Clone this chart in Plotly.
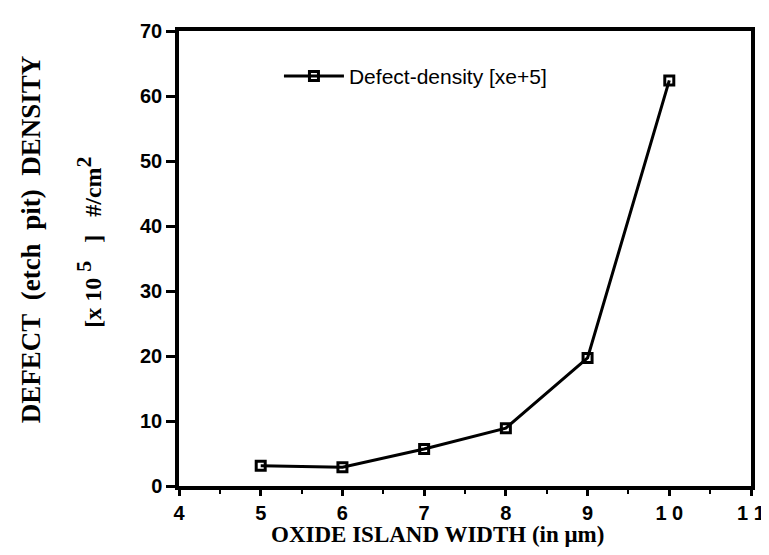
import plotly.graph_objects as go

width_um = [5, 6, 7, 8, 9, 10]
defect_density = [3.1, 2.9, 5.7, 8.9, 19.7, 62.4]
series_name = "Defect-density [xe+5]"
x_tick_vals = [4, 5, 6, 7, 8, 9, 10, 11]
x_tick_text = ["4", "5", "6", "7", "8", "9", "1 0", "1 1"]
y_tick_vals = [0, 10, 20, 30, 40, 50, 60, 70]

W, H = 769, 555
L, R, T, B = 171, 20, 16, 77
PW, PH = W - L - R, H - T - B

fig = go.Figure()
fig.add_trace(go.Scatter(
    x=width_um, y=defect_density, mode="lines+markers", name=series_name,
    line=dict(color="black", width=3),
    marker=dict(symbol="square-open", size=9, color="black", line=dict(color="black", width=3)),
))

tickfont = dict(family="Liberation Sans, Arial", size=20, color="black", weight="bold")
fig.update_layout(
    width=W, height=H,
    margin=dict(l=L, r=R, t=T, b=B),
    paper_bgcolor="white", plot_bgcolor="white",
    showlegend=True,
    legend=dict(
        x=(272 - L) / PW, y=1 - (62 - T) / PH,
        xanchor="left", yanchor="middle", bgcolor="rgba(0,0,0,0)",
        font=dict(family="Liberation Sans, Arial", size=21, color="black"),
        itemwidth=60),
    xaxis=dict(range=[4, 11], tickvals=x_tick_vals, ticktext=x_tick_text,
               showgrid=False, zeroline=False, showline=True, linecolor="black", linewidth=3.5,
               mirror=True, ticks="outside", ticklen=6, tickwidth=2.5, tickcolor="black",
               ticklabelstandoff=0,
               minor=dict(dtick=0.5, ticks="outside", ticklen=4, tickwidth=2, tickcolor="black"),
               tickfont=tickfont),
    yaxis=dict(range=[0, 70], tickvals=y_tick_vals,
               showgrid=False, zeroline=False, showline=True, linecolor="black", linewidth=3.5,
               mirror=True, ticks="outside", ticklen=9, tickwidth=3, tickcolor="black",
               tickfont=tickfont),
)

fig.add_annotation(text="<b>OXIDE ISLAND WIDTH (in μm)</b>", xref="paper", yref="paper",
                   x=(432 - L) / PW, y=-(527 - (H - B)) / PH,
                   xanchor="center", yanchor="middle", showarrow=False,
                   font=dict(family="Liberation Serif, Times New Roman", size=23, color="black"))
fig.add_annotation(text="<b>DEFECT&nbsp;&nbsp;(etch&nbsp;&nbsp;pit)&nbsp;&nbsp;DENSITY</b>",
                   xref="paper", yref="paper",
                   x=-(L - 21) / PW, y=1 - (228 - T) / PH,
                   xanchor="center", yanchor="middle", textangle=-90, showarrow=False,
                   font=dict(family="Liberation Serif, Times New Roman", size=27, color="black"))
fig.add_annotation(text="<b>[x 10 <sup><span style='font-size:22px'>5</span></sup>&nbsp;&nbsp;&nbsp;]&nbsp;&nbsp;&nbsp;#/cm<sup><span style='font-size:22px'>2</span></sup></b>",
                   xref="paper", yref="paper",
                   x=-(L - 80) / PW, y=1 - (230 - T) / PH,
                   xanchor="center", yanchor="middle", textangle=-90, showarrow=False,
                   font=dict(family="Liberation Serif, Times New Roman", size=24, color="black"))

fig.write_html("out.html")
